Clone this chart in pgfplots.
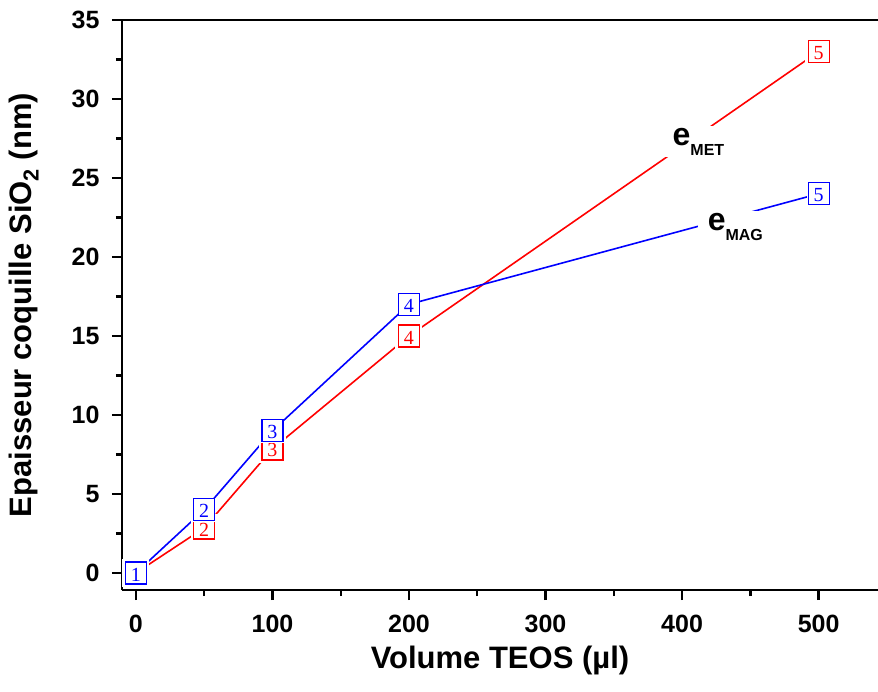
\documentclass[border=0pt]{standalone}
\usepackage{pgfplots}
\pgfplotsset{compat=1.18}
\usepackage{fontspec}
\setmainfont{Liberation Sans}
\newfontfamily\serifnum{Liberation Serif}
\begin{document}
\begin{tikzpicture}
\begin{axis}[
  scale only axis, width=756pt, height=570pt,
  xmin=-10.2, xmax=543.5, ymin=-1.08, ymax=35,
  separate axis lines,
  axis x line*=box, axis y line*=left,
  axis line style={-, line width=2.6pt},
  xtick={0,100,...,500}, ytick={0,5,...,35},
  minor x tick num=1, minor y tick num=1,
  xtick pos=bottom, ytick pos=left,
  tick align=outside,
  major tick length=10pt, minor tick length=6pt,
  every tick/.style={black, line width=2.4pt},
  /pgf/number format/assume math mode=true,
  ticklabel style={font=\bfseries\fontsize{25}{27}\selectfont},
  yticklabel style={xshift=-9pt},
  xticklabel style={yshift=-12pt},
  xlabel={\bfseries Volume TEOS (µl)},
  ylabel={\bfseries Epaisseur coquille SiO\textsubscript{2} (nm)},
  every axis x label/.style={at={(axis description cs:0.5,0)}, anchor=center, yshift=-70pt},
  every axis y label/.style={at={(axis description cs:0,0.5)}, anchor=center, xshift=-98pt, rotate=90},
  label style={font=\bfseries\fontsize{31}{33}\selectfont, inner sep=0pt},
  axis on top=true,
  clip=false,
  nodes near coords={\raisebox{-1.5pt}[\height][\depth]{\pgfplotspointmeta}},
  point meta=explicit symbolic,
]
\addplot[red, line width=1.6pt, nodes near coords style={anchor=center, draw=red, line width=1.2pt, fill=white, text=red, font=\serifnum\fontsize{20}{20}\selectfont, minimum width=21pt, minimum height=22pt, inner sep=0pt, preaction={draw=white, line width=6pt}}]
table[meta=lab] {
x y lab
0 0 1
50 2.85 2
100 7.85 3
200 15 4
500 33 5
};
\addplot[blue, line width=1.6pt, nodes near coords style={anchor=center, draw=blue, line width=1.2pt, fill=white, text=blue, font=\serifnum\fontsize{20}{20}\selectfont, minimum width=21pt, minimum height=22pt, inner sep=0pt, preaction={draw=white, line width=1.6pt}}]
table[meta=lab] {
x y lab
0 0 1
50 4 2
100 9 3
200 17 4
500 24 5
};
\node[fill=white, inner xsep=9pt, inner ysep=2pt, font=\bfseries\fontsize{32}{32}\selectfont] at (axis cs:412,27.3) {e\raisebox{-10pt}{\fontsize{16}{16}\selectfont MET}};
\node[fill=white, inner xsep=10pt, inner ysep=2pt, font=\bfseries\fontsize{32}{32}\selectfont] at (axis cs:439,21.9) {e\raisebox{-10pt}{\fontsize{16}{16}\selectfont MAG}};
\coordinate (tl) at (rel axis cs:0,1);
\coordinate (br) at (rel axis cs:1,0);
\end{axis}
\pgfresetboundingbox
\path[use as bounding box] ([xshift=-122pt,yshift=20pt]tl) rectangle ([yshift=-101pt]br);
\end{tikzpicture}
\end{document}
